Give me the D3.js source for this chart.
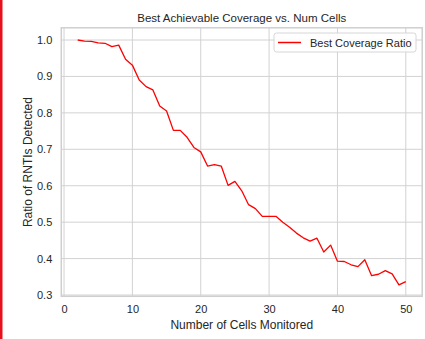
<!DOCTYPE html>
<html>
<head>
<meta charset="utf-8">
<script src="https://cdn.jsdelivr.net/npm/d3@7"></script>
<style>
  html, body { margin: 0; padding: 0; background: #fff; }
  body { width: 425px; height: 339px; overflow: hidden; }
  svg { display: block; font-family: "Liberation Sans", Arial, sans-serif; }
</style>
</head>
<body>
<script>
const cells = [2, 3, 4, 5, 6, 7, 8, 9, 10, 11, 12, 13, 14, 15, 16, 17, 18, 19, 20, 21, 22, 23, 24, 25, 26,
  27, 28, 29, 30, 31, 32, 33, 34, 35, 36, 37, 38, 39, 40, 41, 42, 43, 44, 45, 46, 47, 48, 49, 50];
const coverage = [1.0, 0.997, 0.996, 0.992, 0.991, 0.982, 0.986, 0.947, 0.931, 0.890, 0.872, 0.863, 0.819,
  0.805, 0.752, 0.752, 0.733, 0.705, 0.693, 0.654, 0.658, 0.654, 0.601, 0.612, 0.586,
  0.548, 0.537, 0.516, 0.516, 0.516, 0.500, 0.486, 0.470, 0.457, 0.448, 0.456, 0.418, 0.437,
  0.393, 0.392, 0.383, 0.378, 0.397, 0.353, 0.357, 0.367, 0.358, 0.328, 0.337];
const xTicks = [0, 10, 20, 30, 40, 50];
const yTicks = [0.3, 0.4, 0.5, 0.6, 0.7, 0.8, 0.9, 1.0];
const seriesName = "Best Coverage Ratio";

const width = 425, height = 339;
const plotL = 61.3, plotR = 422.2, plotT = 27.8, plotB = 296.3;

const svg = d3.select("body").append("svg")
  .attr("width", width)
  .attr("height", height);

// red strip on the left edge
svg.append("rect")
  .attr("x", 0).attr("y", 0)
  .attr("width", 2.5).attr("height", height)
  .attr("fill", "#e8101a");

const x = d3.scaleLinear().domain([-0.4, 52.4]).range([plotL, plotR]);
const y = d3.scaleLinear().domain([0.2965, 1.0335]).range([plotB, plotT]);

const grid = svg.append("g").attr("stroke", "#d2d2d2").attr("stroke-width", 1);
grid.selectAll(".gx").data(xTicks).enter().append("line")
  .attr("x1", d => x(d)).attr("x2", d => x(d))
  .attr("y1", plotT).attr("y2", plotB);
grid.selectAll(".gy").data(yTicks).enter().append("line")
  .attr("x1", plotL).attr("x2", plotR)
  .attr("y1", d => y(d)).attr("y2", d => y(d));

svg.append("rect")
  .attr("x", plotL).attr("y", plotT)
  .attr("width", plotR - plotL).attr("height", plotB - plotT)
  .attr("fill", "none")
  .attr("stroke", "#cfcfcf")
  .attr("stroke-width", 1.5);

const xAxis = svg.append("g")
  .attr("transform", `translate(0,${plotB})`)
  .call(d3.axisBottom(x).tickValues(xTicks).tickSize(0).tickPadding(9).tickFormat(d3.format("d")));
xAxis.select(".domain").remove();
xAxis.selectAll("text").attr("font-size", 11).attr("fill", "#262626")
  .attr("font-family", "Liberation Sans, Arial, sans-serif");

const yAxis = svg.append("g")
  .attr("transform", `translate(${plotL},0)`)
  .call(d3.axisLeft(y).tickValues(yTicks).tickSize(0).tickPadding(9).tickFormat(d3.format(".1f")));
yAxis.select(".domain").remove();
yAxis.selectAll("text").attr("font-size", 11).attr("fill", "#262626")
  .attr("font-family", "Liberation Sans, Arial, sans-serif");

const line = d3.line()
  .x((d, i) => x(cells[i]))
  .y(d => y(d));

svg.append("path")
  .datum(coverage)
  .attr("d", line)
  .attr("fill", "none")
  .attr("stroke", "#ff0000")
  .attr("stroke-width", 1.3)
  .attr("stroke-linejoin", "round");

svg.append("text")
  .attr("x", (plotL + plotR) / 2).attr("y", 22)
  .attr("text-anchor", "middle")
  .attr("font-size", 11.5).attr("fill", "#262626")
  .text("Best Achievable Coverage vs. Num Cells");

svg.append("text")
  .attr("x", (plotL + plotR) / 2).attr("y", 329)
  .attr("text-anchor", "middle")
  .attr("font-size", 12).attr("fill", "#262626")
  .text("Number of Cells Monitored");

svg.append("text")
  .attr("transform", `translate(32,${(plotT + plotB) / 2}) rotate(-90)`)
  .attr("text-anchor", "middle")
  .attr("font-size", 12).attr("fill", "#262626")
  .text("Ratio of RNTIs Detected");

// legend
const lg = svg.append("g").attr("transform", "translate(274,33)");
lg.append("rect")
  .attr("width", 142).attr("height", 19).attr("rx", 2.5)
  .attr("fill", "#fff").attr("fill-opacity", 0.85)
  .attr("stroke", "#d6d6d6");
lg.append("line")
  .attr("x1", 4).attr("x2", 27).attr("y1", 9.5).attr("y2", 9.5)
  .attr("stroke", "#ff0000").attr("stroke-width", 1.5);
lg.append("text")
  .attr("x", 36).attr("y", 13.5)
  .attr("font-size", 11).attr("fill", "#262626")
  .text(seriesName);
</script>
</body>
</html>
